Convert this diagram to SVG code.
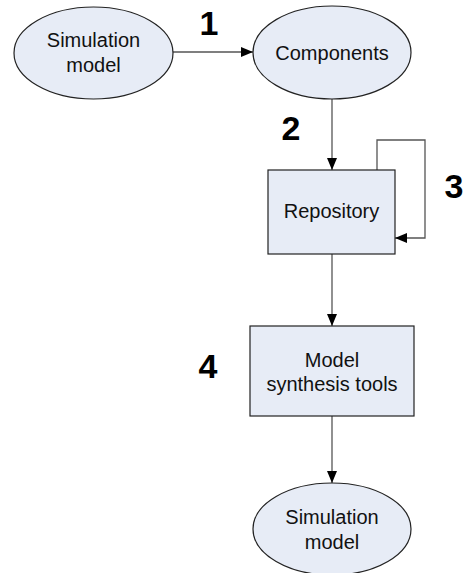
<svg xmlns="http://www.w3.org/2000/svg" width="463" height="573" viewBox="0 0 463 573">
<style>
.node{fill:#e7ecf6;stroke:#222;stroke-width:1.2}
.lbl{font-family:"Liberation Sans",Arial,sans-serif;font-size:20px;fill:#111;text-anchor:middle}
.num{font-family:"Liberation Sans",Arial,sans-serif;font-size:34px;font-weight:bold;fill:#000;text-anchor:middle}
.edge{fill:none;stroke:#555;stroke-width:1.3}
</style>
<defs>
<marker id="ah" viewBox="0 0 12 10" refX="12" refY="5" markerWidth="12" markerHeight="10" markerUnits="userSpaceOnUse" orient="auto">
<path d="M0,0 L12,5 L0,10 Z" fill="#000"/>
</marker>
</defs>
<rect width="463" height="573" fill="#fff"/>
<g id="connectors">
<path class="edge" d="M173,52 H253" marker-end="url(#ah)"/>
<path class="edge" d="M332,99 V170" marker-end="url(#ah)"/>
<path class="edge" d="M377,170 V140 H425 V238 H395" marker-end="url(#ah)"/>
<path class="edge" d="M332,254 V326" marker-end="url(#ah)"/>
<path class="edge" d="M332,416 V483" marker-end="url(#ah)"/>
</g>
<g id="sim1">
<ellipse class="node" cx="93.5" cy="53" rx="79.5" ry="46"/>
<text class="lbl" x="93.5" y="47">Simulation</text>
<text class="lbl" x="93.5" y="72">model</text>
</g>
<g id="components">
<ellipse class="node" cx="332" cy="52.5" rx="79" ry="46.5"/>
<text class="lbl" x="332" y="60">Components</text>
</g>
<g id="repository">
<rect class="node" x="268" y="170" width="127" height="84"/>
<text class="lbl" x="331.5" y="218">Repository</text>
</g>
<g id="synthesis">
<rect class="node" x="250" y="326" width="164" height="90"/>
<text class="lbl" x="332" y="367">Model</text>
<text class="lbl" x="332" y="391">synthesis tools</text>
</g>
<g id="sim2">
<ellipse class="node" cx="332" cy="529" rx="79" ry="46"/>
<text class="lbl" x="332" y="524">Simulation</text>
<text class="lbl" x="332" y="549">model</text>
</g>
<g id="labels">
<text class="num" x="209" y="35">1</text>
<text class="num" x="291" y="140">2</text>
<text class="num" x="454" y="198">3</text>
<text class="num" x="208" y="378">4</text>
</g>
</svg>
